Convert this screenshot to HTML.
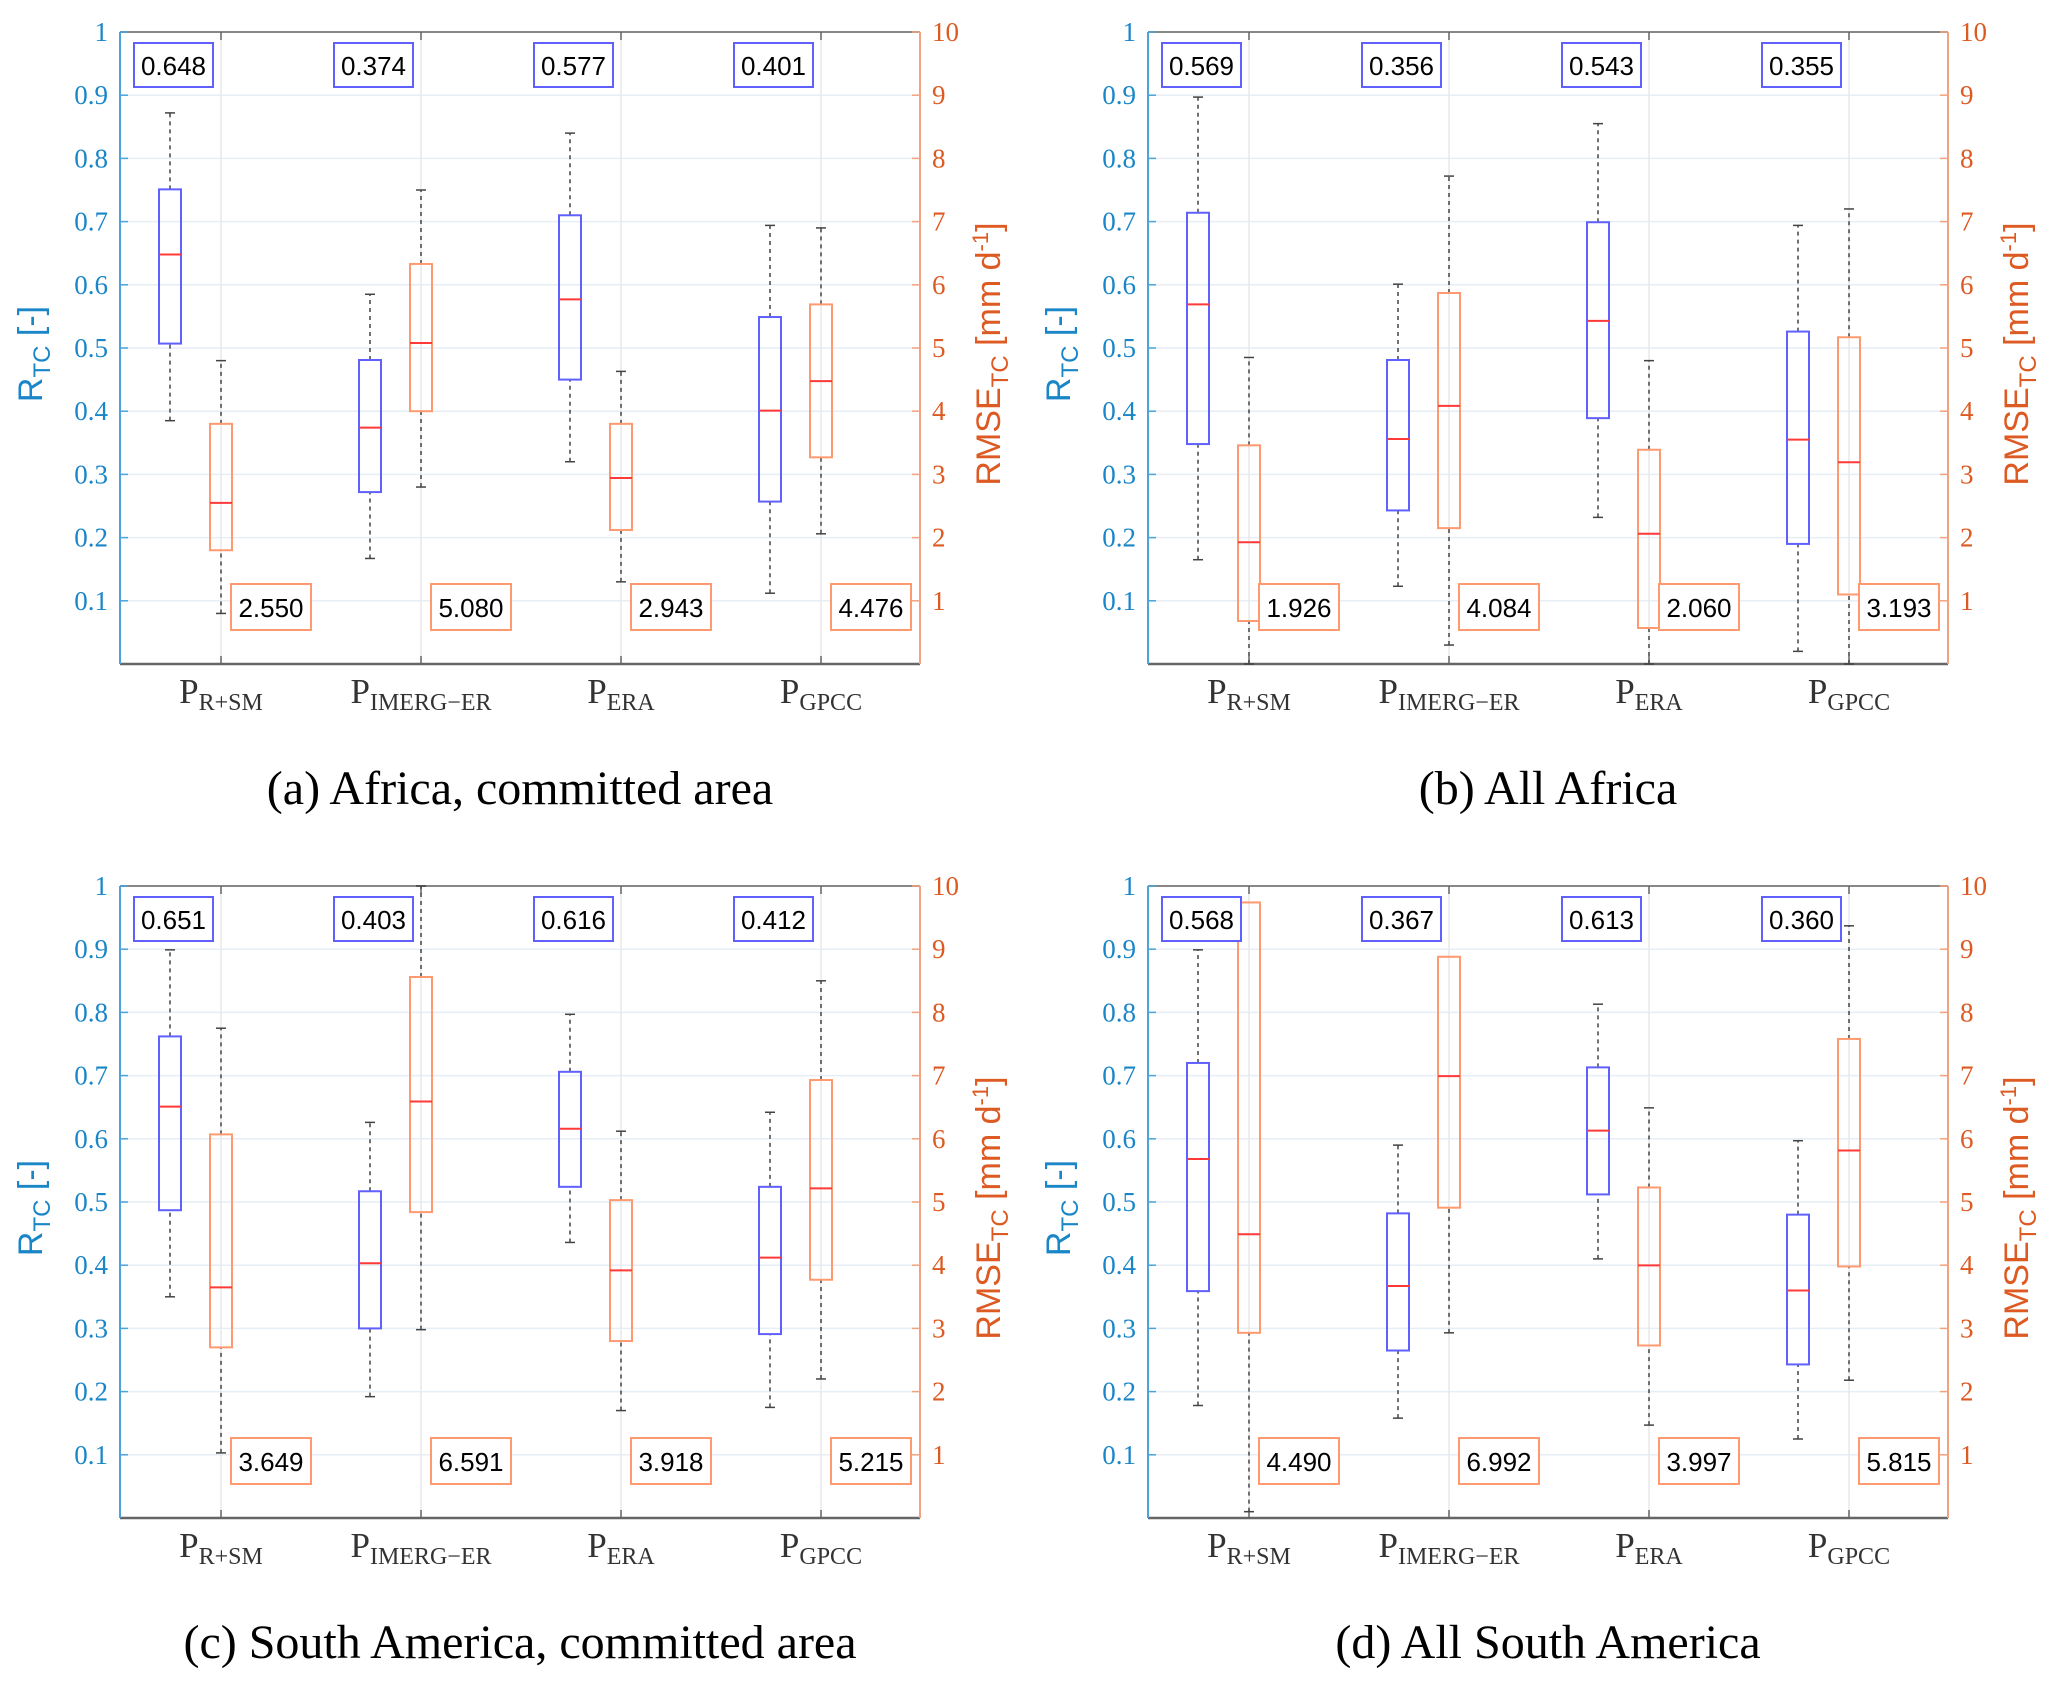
<!DOCTYPE html>
<html><head><meta charset="utf-8"><style>
html,body{margin:0;padding:0;background:#fff}
svg{display:block}
.tk{font-family:"Liberation Serif",serif;font-size:27px}
.ann{font-family:"Liberation Sans",sans-serif;font-size:26px;fill:#000}
.lab{font-family:"Liberation Sans",sans-serif;font-size:34px}
.cat{font-family:"Liberation Serif",serif;font-size:35px;fill:#333}
.cap{font-family:"Liberation Serif",serif;font-size:48px;fill:#000}
</style></head><body>
<svg id="chart" width="2067" height="1684" viewBox="0 0 2067 1684" xmlns="http://www.w3.org/2000/svg"></svg>
<script>
const categories = ["R+SM","IMERG\u2212ER","ERA","GPCC"];
const captions = ["(a)  Africa, committed area","(b)  All Africa","(c)  South America, committed area","(d)  All South America"];
// R boxes: [whiskerLow, q1, median, q3, whiskerHigh] per panel per category
const rStats = [
 [[0.385,0.507,0.648,0.751,0.872],[0.167,0.272,0.374,0.481,0.585],[0.32,0.45,0.577,0.71,0.84],[0.112,0.257,0.401,0.549,0.694]],
 [[0.165,0.348,0.569,0.714,0.897],[0.123,0.243,0.356,0.481,0.601],[0.232,0.389,0.543,0.699,0.855],[0.02,0.19,0.355,0.526,0.694]],
 [[0.35,0.487,0.651,0.762,0.899],[0.192,0.3,0.403,0.517,0.626],[0.436,0.524,0.616,0.706,0.797],[0.175,0.291,0.412,0.524,0.642]],
 [[0.178,0.359,0.568,0.72,0.899],[0.158,0.265,0.367,0.482,0.59],[0.41,0.512,0.613,0.713,0.813],[0.125,0.243,0.36,0.48,0.597]]
];
const rmseStats = [
 [[0.8,1.8,2.55,3.8,4.8],[2.8,4.0,5.08,6.33,7.5],[1.3,2.12,2.943,3.8,4.63],[2.06,3.27,4.476,5.69,6.9]],
 [[0.0,0.68,1.926,3.46,4.85],[0.3,2.15,4.084,5.87,7.72],[0.0,0.57,2.06,3.39,4.8],[0.0,1.1,3.193,5.17,7.2]],
 [[1.03,2.7,3.649,6.07,7.75],[2.98,4.84,6.591,8.56,10.0],[1.7,2.8,3.918,5.03,6.12],[2.2,3.77,5.215,6.93,8.5]],
 [[0.1,2.93,4.49,9.74,9.74],[2.93,4.91,6.992,8.88,8.88],[1.47,2.73,3.997,5.23,6.49],[2.18,3.98,5.815,7.58,9.37]]
];
const rLabels = [["0.648","0.374","0.577","0.401"],["0.569","0.356","0.543","0.355"],["0.651","0.403","0.616","0.412"],["0.568","0.367","0.613","0.360"]];
const rmseLabels = [["2.550","5.080","2.943","4.476"],["1.926","4.084","2.060","3.193"],["3.649","6.591","3.918","5.215"],["4.490","6.992","3.997","5.815"]];
const leftTicks = ["0.1","0.2","0.3","0.4","0.5","0.6","0.7","0.8","0.9","1"];
const rightTicks = ["1","2","3","4","5","6","7","8","9","10"];

const NS="http://www.w3.org/2000/svg";
const svg=document.getElementById('chart');
function mk(tag,attrs,parent,text){const e=document.createElementNS(NS,tag);for(const k in attrs)e.setAttribute(k,attrs[k]);if(text!==undefined)e.textContent=text;(parent||svg).appendChild(e);return e;}
const W=800,H=632;
const origins=[[120,32],[1148,32],[120,886],[1148,886]];
const BLUE="#1a86c8",ORANGE="#dd5a22",BOXB="#6060ff",BOXO="#ff9a70",MED="#ff3838";
origins.forEach((o,p)=>{
  const [X0,Y0]=o;
  const g=mk('g',{});
  
  
  const yR=v=>Y0+H-v*H;
  const yM=v=>Y0+H-v/10*H;
  const xC=i=>X0+101+i*200;
  for(let i=0;i<10;i++){const y=yR((i+1)/10);mk('line',{x1:X0,x2:X0+W,y1:y,y2:y,stroke:'#e6eef6','stroke-width':1.5},g);}
  categories.forEach((c,i)=>mk('line',{x1:xC(i),x2:xC(i),y1:Y0,y2:Y0+H,stroke:'#e8e8e8','stroke-width':1.5},g));
  mk('line',{x1:X0,x2:X0+W,y1:Y0,y2:Y0,stroke:'#888','stroke-width':2},g);
  mk('line',{x1:X0,x2:X0+W,y1:Y0+H,y2:Y0+H,stroke:'#666','stroke-width':2.5},g);
  mk('line',{x1:X0,x2:X0,y1:Y0,y2:Y0+H,stroke:'#4aa3db','stroke-width':2},g);
  mk('line',{x1:X0+W,x2:X0+W,y1:Y0,y2:Y0+H,stroke:'#f2a27e','stroke-width':2},g);
  leftTicks.forEach((t,i)=>{const y=yR((i+1)/10);
    mk('line',{x1:X0,x2:X0+8,y1:y,y2:y,stroke:'#4aa3db','stroke-width':1.5},g);
    const e=mk('text',{x:X0-12,y:y+9,'text-anchor':'end',class:'tk',fill:BLUE},g,t);
    });
  rightTicks.forEach((t,i)=>{const y=yM(i+1);
    mk('line',{x1:X0+W-8,x2:X0+W,y1:y,y2:y,stroke:'#f2a27e','stroke-width':1.5},g);
    const e=mk('text',{x:X0+W+12,y:y+9,class:'tk',fill:ORANGE},g,t);
    });
  categories.forEach((c,i)=>{
    mk('line',{x1:xC(i),x2:xC(i),y1:Y0+H-8,y2:Y0+H,stroke:'#666','stroke-width':1.5},g);
    mk('line',{x1:xC(i),x2:xC(i),y1:Y0,y2:Y0+8,stroke:'#666','stroke-width':1.5},g);
    const t=mk('text',{x:xC(i),y:Y0+H+39,'text-anchor':'middle',class:'cat'},g);
    
    mk('tspan',{},t,'P');mk('tspan',{dy:7,'font-size':'24px'},t,c);
    function box(s,cx,yf,col,name){
      const bw=22;
      const bg=mk('g',{},g);
      
      mk('line',{x1:cx,x2:cx,y1:yf(s[0]),y2:yf(s[1]),stroke:'#444','stroke-width':1.5,'stroke-dasharray':'4,4'},bg);
      mk('line',{x1:cx,x2:cx,y1:yf(s[3]),y2:yf(s[4]),stroke:'#444','stroke-width':1.5,'stroke-dasharray':'4,4'},bg);
      mk('line',{x1:cx-5,x2:cx+5,y1:yf(s[0]),y2:yf(s[0]),stroke:'#444','stroke-width':1.5},bg);
      mk('line',{x1:cx-5,x2:cx+5,y1:yf(s[4]),y2:yf(s[4]),stroke:'#444','stroke-width':1.5},bg);
      mk('rect',{x:cx-bw/2,y:yf(s[3]),width:bw,height:yf(s[1])-yf(s[3]),fill:'none',stroke:col,'stroke-width':2},bg);
      mk('line',{x1:cx-bw/2,x2:cx+bw/2,y1:yf(s[2]),y2:yf(s[2]),stroke:MED,'stroke-width':2},bg);
    }
    box(rStats[p][i],xC(i)-51,yR,BOXB,'r-box');
    box(rmseStats[p][i],xC(i),yM,BOXO,'rmse-box');
    const a1=mk('g',{},g);
    mk('rect',{x:xC(i)-87,y:Y0+11,width:79,height:44,fill:'#fff',stroke:BOXB,'stroke-width':2},a1);
    mk('text',{x:xC(i)-47.5,y:Y0+43,'text-anchor':'middle',class:'ann'},a1,rLabels[p][i]);
    const a2=mk('g',{},g);
    mk('rect',{x:xC(i)+10,y:Y0+552,width:80,height:46,fill:'#fff',stroke:BOXO,'stroke-width':2},a2);
    mk('text',{x:xC(i)+50,y:Y0+585,'text-anchor':'middle',class:'ann'},a2,rmseLabels[p][i]);
  });
  const ly=mk('text',{transform:`translate(${X0-78},${Y0+322}) rotate(-90)`,'text-anchor':'middle',class:'lab',fill:BLUE},g);
  
  mk('tspan',{},ly,'R');mk('tspan',{dy:8,'font-size':'24px'},ly,'TC');mk('tspan',{dy:-8},ly,' [-]');
  const ry=mk('text',{transform:`translate(${X0+W+80},${Y0+322}) rotate(-90)`,'text-anchor':'middle',class:'lab',fill:ORANGE},g);
  
  mk('tspan',{},ry,'RMSE');mk('tspan',{dy:8,'font-size':'24px'},ry,'TC');mk('tspan',{dy:-8},ry,' [mm d');mk('tspan',{dy:-12,'font-size':'22px'},ry,'-1');mk('tspan',{dy:12},ry,']');
  const cp=mk('text',{x:X0+400,y:Y0+H+140,'text-anchor':'middle',class:'cap'},g,captions[p]);
  
});
</script>
</body></html>
